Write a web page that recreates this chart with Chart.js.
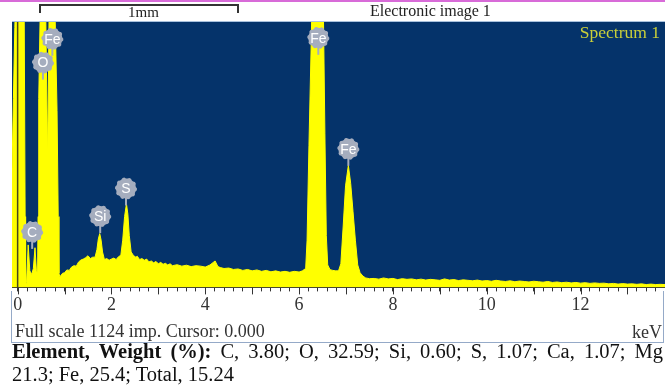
<!DOCTYPE html>
<html>
<head>
<meta charset="utf-8">
<script src="https://cdn.jsdelivr.net/npm/chart.js@4.4.1/dist/chart.umd.min.js"></script>
<style>
  html, body { margin: 0; padding: 0; background: #fff; }
  #wrap { position: relative; width: 665px; height: 391px; overflow: hidden;
          font-family: "Liberation Serif", "Times New Roman", serif; color: #222; }
  #wrap canvas { position: absolute; left: 0; top: 0; }
  .txt { position: absolute; white-space: nowrap; line-height: 1; }
  #topLine { position: absolute; left: 0; top: 0; width: 665px; height: 2px; background: #d86bd8; }
  #scaleBar { position: absolute; left: 39px; top: 4px; width: 196px; height: 7px;
              border: 2px solid #333; border-bottom: none; }
  #mmLabel { left: 128px; top: 5px; font-size: 15px; }
  #imgLabel { left: 370px; top: 3px; font-size: 16px; }
  #specLabel { right: 5px; top: 24px; font-size: 17.5px; color: #c9cf3a; }
  #infoBox { position: absolute; left: 11px; top: 291px; width: 653px; height: 52px;
             box-sizing: border-box; border: 1px solid #95aac8; border-top: none; }
  #fullScale { left: 15px; top: 322px; font-size: 18px; color: #333; }
  #kevLabel { right: 3px; top: 323px; font-size: 18px; color: #333; }
  .cap { position: absolute; left: 12px; width: 651px; font-size: 20.5px; line-height: 20.5px; color: #111; }
  #cap1 { top: 341px; text-align: justify; text-align-last: justify; white-space: nowrap; }
  #cap2 { top: 364px; }
</style>
</head>
<body>
<div id="wrap">
  <canvas id="chartCanvas" width="665" height="391"></canvas>
  <div id="topLine"></div>
  <div id="scaleBar"></div>
  <div class="txt" id="mmLabel">1mm</div>
  <div class="txt" id="imgLabel">Electronic image 1</div>
  <div class="txt" id="specLabel">Spectrum 1</div>
  <div id="infoBox"></div>
  <div class="txt" id="fullScale">Full scale 1124 imp. Cursor: 0.000</div>
  <div class="txt" id="kevLabel">keV</div>
  <div class="cap" id="cap1"><b>Element, Weight (%):</b> C, 3.80; O, 32.59; Si, 0.60; S, 1.07; Ca, 1.07; Mg</div>
  <div class="cap" id="cap2">21.3; Fe, 25.4; Total, 15.24</div>
</div>
<script>
// spectrum (energy in keV, counts in imp.)
const energyKeV = [
  -0.12, -0.09, -0.06, -0.02, 0.04, 0.10, 0.14, 0.16, 0.17,
  0.19, 0.225, 0.26, 0.30, 0.335, 0.37, 0.40, 0.425,
  0.435, 0.45, 0.48, 0.54, 0.60, 0.64, 0.67, 0.73, 0.80, 0.84, 0.865, 0.88,
  0.90, 0.96, 1.00, 1.05, 1.10, 1.15, 1.20, 1.25, 1.30, 1.35, 1.40, 1.45, 1.50, 1.55, 1.60,
  1.65, 1.69, 1.72, 1.75, 1.78, 1.81, 1.85, 1.90, 1.95, 2.00, 2.05, 2.10, 2.15, 2.20,
  2.24, 2.28, 2.32, 2.35, 2.38, 2.42, 2.47, 2.52,
  2.55, 2.60, 2.65, 2.70, 2.75, 2.80, 2.85, 2.90, 2.95, 3.00, 3.05, 3.10, 3.15, 3.20, 3.25, 3.30,
  3.40, 3.50, 3.60, 3.70, 3.80, 3.90, 4.00, 4.10, 4.21, 4.27, 4.32, 4.40, 4.50, 4.60, 4.70, 4.80,
  4.90, 5.00, 5.10, 5.20, 5.30, 5.40, 5.50, 5.60, 5.70, 5.80, 5.90, 6.00, 6.07,
  6.14, 6.17, 6.21, 6.26, 6.30, 6.36, 6.41, 6.46, 6.51, 6.55, 6.58, 6.61, 6.66, 6.72, 6.78,
  6.84, 6.89, 6.94, 6.99, 7.05, 7.10, 7.15, 7.20, 7.25, 7.30, 7.36, 7.42,
  7.50, 7.60, 7.70, 7.80, 7.90, 8.00, 8.10, 8.20, 8.30, 8.40, 8.50, 8.60, 8.70, 8.80, 8.90,
  9.00, 9.10, 9.20, 9.30, 9.40, 9.50, 9.60, 9.70, 9.80, 9.90, 10.00, 10.10, 10.20, 10.30,
  10.40, 10.50, 10.60, 10.70, 10.80, 10.90, 11.00, 11.10, 11.20, 11.30, 11.40, 11.50, 11.60,
  11.70, 11.80, 11.90, 12.00, 12.10, 12.20, 12.30, 12.40, 12.50, 12.60, 12.70, 12.80, 12.90,
  13.00, 13.10, 13.20, 13.30, 13.40, 13.50, 13.60, 13.70, 13.80
];
const counts = [
  500, 800, 1100, 1400, 1550, 1500, 1150, 300, 15,
  20, 180, 70, 55, 80, 168, 70, 60,
  300, 800, 1150, 1600, 1150, 530, 1150, 1600, 1140, 750, 300, 60,
  45, 60, 62, 74, 72, 86, 92, 90, 108, 116, 120, 126, 134, 122, 128,
  128, 160, 205, 228, 200, 150, 118, 122, 115, 120, 124, 118, 130, 136,
  200, 300, 354, 310, 220, 150, 135, 128,
  132, 118, 122, 115, 120, 108, 112, 104, 110, 100, 106, 98, 102, 95, 100, 92,
  96, 90, 94, 88, 92, 90, 86, 95, 112, 88, 84, 80, 82, 76, 78, 72,
  76, 70, 74, 68, 72, 66, 70, 65, 68, 64, 68, 65, 70,
  80, 200, 600, 1050, 1500, 2300, 2600, 2250, 1300, 650, 220, 95, 75, 72, 70,
  70, 100, 260, 430, 517, 440, 320, 200, 95, 62, 48, 40,
  37, 38, 35, 40, 36, 38, 33, 37, 34, 36, 32, 35, 31, 34, 32,
  30, 36, 31, 33, 29, 32, 30, 28, 31, 27, 29, 26, 30, 27,
  25, 28, 24, 27, 25, 23, 26, 24, 22, 25, 21, 23, 20,
  22, 19, 21, 18, 20, 17, 19, 17, 18, 15, 17, 14, 16,
  14, 15, 13, 15, 12, 14, 12, 13, 12
];

// axis
const xMin = -0.12;
const xMax = 13.80;
const fullScale = 1124;
const xTickValues = [0, 2, 4, 6, 8, 10, 12];
const xTickLabels = ['0', '2', '4', '6', '8', '10', '12'];
const cursorKeV = 0.000;

// element markers: where the gray badge sits (keV, counts)
const peakLabels = ['C', 'O', 'Fe', 'Si', 'S', 'Fe', 'Fe'];
const peakKeV = [0.31, 0.54, 0.74, 1.76, 2.31, 6.41, 7.05];
const peakLabelCounts = [235, 952, 1053, 302, 419, 1057, 587];

// background, cursor, major ticks and the element badges
const spectrumDecor = {
  id: 'spectrumDecor',
  beforeDraw(chart) {
    const { ctx, chartArea: a } = chart;
    ctx.save();
    ctx.fillStyle = '#05336a';
    ctx.fillRect(a.left, a.top, a.right - a.left, a.bottom - a.top);
    ctx.fillStyle = '#a9c1dc';
    ctx.fillRect(a.left, a.top - 1, a.right - a.left, 1);
    ctx.restore();
  },
  afterDatasetsDraw(chart) {
    const { ctx, chartArea: a, scales: { x, y } } = chart;
    ctx.save();

    // cursor line
    const cx = x.getPixelForValue(cursorKeV);
    ctx.strokeStyle = 'rgba(40,40,30,0.85)';
    ctx.lineWidth = 1.5;
    ctx.beginPath();
    ctx.moveTo(cx, a.top);
    ctx.lineTo(cx, a.bottom);
    ctx.stroke();

    // longer ticks on whole keV
    ctx.strokeStyle = '#333';
    ctx.lineWidth = 1;
    for (let k = 0; k <= Math.floor(xMax); k++) {
      const px = Math.round(x.getPixelForValue(k)) + 0.5;
      ctx.beginPath();
      ctx.moveTo(px, a.bottom);
      ctx.lineTo(px, a.bottom + 7);
      ctx.stroke();
    }

    // badges
    peakLabels.forEach((lab, i) => {
      const px = x.getPixelForValue(peakKeV[i]);
      const py = y.getPixelForValue(peakLabelCounts[i]);
      ctx.fillStyle = '#a5adbe';
      ctx.fillRect(px - 1, py, 2, 17);  // stem down to the peak
      ctx.beginPath();
      for (let k = 0; k <= 40; k++) {
        const ang = k / 40 * Math.PI * 2;
        const r = (k % 4 < 2) ? 11 : 10;  // jagged edge
        const qx = px + r * Math.cos(ang);
        const qy = py + r * Math.sin(ang);
        if (k === 0) ctx.moveTo(qx, qy); else ctx.lineTo(qx, qy);
      }
      ctx.closePath();
      ctx.fill();
      ctx.fillStyle = '#ffffff';
      ctx.font = '14px "Liberation Sans", Arial, sans-serif';
      ctx.textAlign = 'center';
      ctx.textBaseline = 'middle';
      ctx.fillText(lab, px, py + 1);
    });
    ctx.restore();
  }
};

const ctx = document.getElementById('chartCanvas').getContext('2d');
const points = energyKeV.map((e, i) => ({ x: e, y: counts[i] }));

new Chart(ctx, {
  type: 'line',
  data: {
    datasets: [{
      label: 'Spectrum 1',
      data: points,
      borderColor: '#ffff00',
      backgroundColor: '#ffff00',
      borderWidth: 1,
      fill: 'origin',
      pointRadius: 0,
      tension: 0
    }]
  },
  options: {
    responsive: false,
    animation: false,
    layout: { padding: { left: 12, top: 22, right: 0, bottom: 72 } },
    plugins: {
      legend: { display: false },
      tooltip: { enabled: false },
      title: { display: false }
    },
    scales: {
      x: {
        type: 'linear',
        min: xMin,
        max: xMax,
        afterBuildTicks: axis => {
          const t = [];
          for (let i = 0; i <= 68; i++) t.push({ value: +(i * 0.2).toFixed(1) });
          axis.ticks = t;
        },
        ticks: {
          autoSkip: false,
          maxRotation: 0,
          minRotation: 0,
          padding: 3,
          color: '#333',
          font: { family: '"Liberation Serif", "Times New Roman", serif', size: 18 },
          callback: value => {
            const k = xTickValues.indexOf(value);
            return k >= 0 ? xTickLabels[k] : '';
          }
        },
        grid: { drawOnChartArea: false, drawTicks: true, tickLength: 4, color: '#333' },
        border: { display: true, color: '#333', width: 1 }
      },
      y: {
        display: false,
        min: 0,
        max: fullScale
      }
    }
  },
  plugins: [spectrumDecor]
});
</script>
</body>
</html>
